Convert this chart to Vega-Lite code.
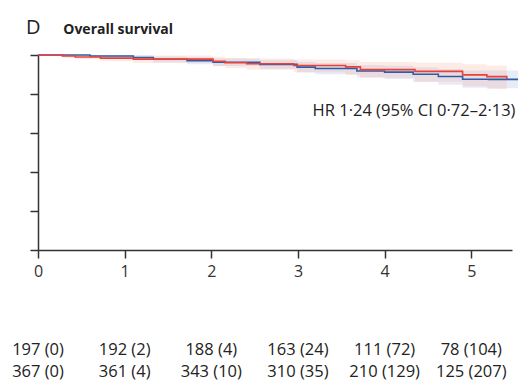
{
  "$schema": "https://vega.github.io/schema/vega-lite/v6.json",
  "padding": {"left": 12, "top": 17, "right": 5, "bottom": 5},
  "background": "white",
  "config": {"view": {"stroke": null}, "font": "Open Sans"},
  "title": {"text": "D", "anchor": "start", "fontSize": 20, "fontWeight": "normal", "font": "Open Sans", "color": "#222", "dx": 14, "dy": 15, "offset": 0},
  "datasets": {
    "curves": [
      {"group": "B", "t": 0, "s": 100, "lo": 100, "hi": 100},
      {"group": "B", "t": 0.6, "s": 99.5, "lo": 98.6, "hi": 100},
      {"group": "B", "t": 1.1, "s": 98.7, "lo": 97.4, "hi": 99.9},
      {"group": "B", "t": 1.33, "s": 97.8, "lo": 96.3, "hi": 99.2},
      {"group": "B", "t": 1.72, "s": 97.1, "lo": 95.3, "hi": 98.8},
      {"group": "B", "t": 2.02, "s": 96.3, "lo": 94.3, "hi": 98.2},
      {"group": "B", "t": 2.56, "s": 95.2, "lo": 92.8, "hi": 97.4},
      {"group": "B", "t": 2.99, "s": 93.8, "lo": 91.0, "hi": 96.4},
      {"group": "B", "t": 3.2, "s": 93.1, "lo": 90.1, "hi": 95.9},
      {"group": "B", "t": 3.68, "s": 91.8, "lo": 88.5, "hi": 94.9},
      {"group": "B", "t": 4.0, "s": 91.2, "lo": 87.7, "hi": 94.5},
      {"group": "B", "t": 4.33, "s": 90.1, "lo": 86.2, "hi": 93.6},
      {"group": "B", "t": 4.62, "s": 89.0, "lo": 84.8, "hi": 92.8},
      {"group": "B", "t": 4.9, "s": 87.6, "lo": 83.2, "hi": 92.0},
      {"group": "B", "t": 5.2, "s": 87.5, "lo": 82.9, "hi": 92.0},
      {"group": "B", "t": 5.54, "s": 87.5, "lo": 82.6, "hi": 92.0},
      {"group": "A", "t": 0, "s": 100, "lo": 100, "hi": 100},
      {"group": "A", "t": 0.28, "s": 99.5, "lo": 98.5, "hi": 100},
      {"group": "A", "t": 0.43, "s": 99.0, "lo": 97.8, "hi": 100},
      {"group": "A", "t": 0.72, "s": 98.4, "lo": 96.8, "hi": 100},
      {"group": "A", "t": 1.1, "s": 97.9, "lo": 95.9, "hi": 99.7},
      {"group": "A", "t": 2.02, "s": 96.8, "lo": 94.2, "hi": 99.1},
      {"group": "A", "t": 2.16, "s": 96.0, "lo": 93.3, "hi": 98.5},
      {"group": "A", "t": 2.41, "s": 95.5, "lo": 92.5, "hi": 98.2},
      {"group": "A", "t": 2.95, "s": 94.6, "lo": 91.1, "hi": 97.7},
      {"group": "A", "t": 3.55, "s": 93.9, "lo": 89.8, "hi": 97.3},
      {"group": "A", "t": 3.72, "s": 92.5, "lo": 88.3, "hi": 96.4},
      {"group": "A", "t": 4.35, "s": 91.6, "lo": 86.3, "hi": 96.0},
      {"group": "A", "t": 4.9, "s": 89.8, "lo": 84.0, "hi": 95.2},
      {"group": "A", "t": 5.18, "s": 88.9, "lo": 82.6, "hi": 94.6},
      {"group": "A", "t": 5.41, "s": 87.6, "lo": 81.0, "hi": 93.4}
    ],
    "note": [
      {"t": 5.51, "s": 68.5, "label": "HR 1·24 (95% CI 0·72–2·13)"}
    ],
    "risk": [
      {"group": "A", "t": 0, "label": "197 (0)"},
      {"group": "A", "t": 1, "label": "192 (2)"},
      {"group": "A", "t": 2, "label": "188 (4)"},
      {"group": "A", "t": 3, "label": "163 (24)"},
      {"group": "A", "t": 4, "label": "111 (72)"},
      {"group": "A", "t": 5, "label": "78 (104)"},
      {"group": "B", "t": 0, "label": "367 (0)"},
      {"group": "B", "t": 1, "label": "361 (4)"},
      {"group": "B", "t": 2, "label": "343 (10)"},
      {"group": "B", "t": 3, "label": "310 (35)"},
      {"group": "B", "t": 4, "label": "210 (129)"},
      {"group": "B", "t": 5, "label": "125 (207)"}
    ]
  },
  "spacing": 60,
  "vconcat": [
    {
      "width": 474,
      "height": 195,
      "title": {"text": "Overall survival", "anchor": "start", "fontSize": 14, "fontWeight": "bold", "font": "Open Sans", "color": "#222", "dx": 34, "dy": -20, "offset": -5},
      "layer": [
        {
          "data": {"name": "curves"},
          "mark": {"type": "area", "interpolate": "step-after", "opacity": 0.13, "clip": false},
          "encoding": {
            "x": {"field": "t", "type": "quantitative"},
            "y": {"field": "lo", "type": "quantitative"},
            "y2": {"field": "hi"},
            "fill": {"field": "group", "type": "nominal", "scale": {"domain": ["A", "B"], "range": ["#f06a3c", "#4a6fc4"]}, "legend": null}
          }
        },
        {
          "data": {"name": "curves"},
          "mark": {"type": "line", "interpolate": "step-after", "strokeWidth": 1.6, "clip": false},
          "encoding": {
            "x": {"field": "t", "type": "quantitative"},
            "y": {"field": "s", "type": "quantitative"},
            "stroke": {"field": "group", "type": "nominal", "scale": {"domain": ["A", "B"], "range": ["#e8413a", "#2a5ea8"]}, "legend": null},
            "order": {"field": "t", "type": "quantitative"}
          }
        },
        {
          "data": {"name": "note"},
          "mark": {"type": "text", "align": "right", "baseline": "alphabetic", "fontSize": 16.5, "font": "Open Sans", "color": "#222"},
          "encoding": {
            "x": {"field": "t", "type": "quantitative"},
            "y": {"field": "s", "type": "quantitative"},
            "text": {"field": "label"}
          }
        }
      ],
      "encoding": {
        "x": {"field": "t", "type": "quantitative", "scale": {"domain": [0, 5.47], "nice": false, "zero": false},
          "axis": {"values": [0, 1, 2, 3, 4, 5], "title": null, "grid": false, "tickSize": 8, "tickWidth": 1.5, "domainWidth": 1.5, "domainColor": "#333", "tickColor": "#333", "labelFontSize": 16, "labelFont": "Open Sans", "labelColor": "#333", "labelPadding": 5, "labelFlush": false}},
        "y": {"field": "s", "type": "quantitative", "scale": {"domain": [0, 100], "nice": false},
          "axis": {"values": [0, 20, 40, 60, 80, 100], "title": null, "grid": false, "labels": false, "tickSize": 8, "tickWidth": 1.5, "domainWidth": 1.5, "domainColor": "#333", "tickColor": "#333"}}
      }
    },
    {
      "width": 474,
      "height": 44,
      "data": {"name": "risk"},
      "mark": {"type": "text", "fontSize": 16.5, "font": "Open Sans", "color": "#222", "baseline": "middle", "align": "center"},
      "encoding": {
        "x": {"field": "t", "type": "quantitative", "scale": {"domain": [0, 5.47], "nice": false}, "axis": null},
        "y": {"field": "group", "type": "nominal", "scale": {"domain": ["A", "B"]}, "axis": null},
        "text": {"field": "label"}
      }
    }
  ]
}
